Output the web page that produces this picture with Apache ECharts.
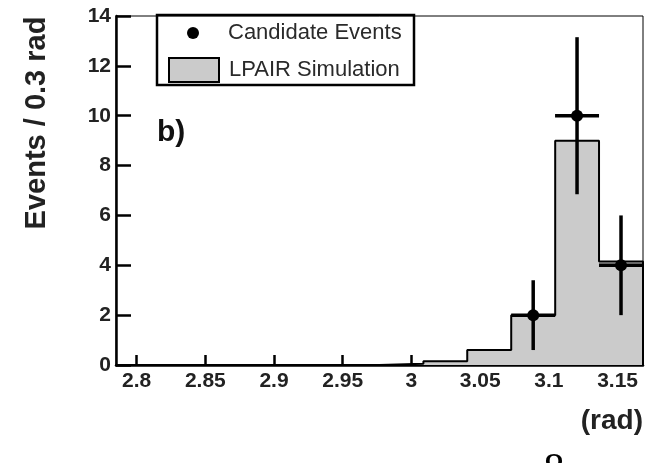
<!DOCTYPE html>
<html><head><meta charset="utf-8">
<script src="https://cdn.jsdelivr.net/npm/echarts@6/dist/echarts.min.js"></script>
<style>html,body{margin:0;padding:0;background:#fff}#c{width:655px;height:463px}</style>
</head><body><div id="c"></div>
<script>
// ---- data ----
const binEdges = [2.7850, 2.8170, 2.8489, 2.8809, 2.9128, 2.9448, 2.9767, 3.0087, 3.0406, 3.0726, 3.1046, 3.1365, 3.1685];
const simValues = [0, 0, 0, 0, 0, 0, 0.05, 0.15, 0.6, 2.0, 9.0, 4.15];
const dataX = [3.0886, 3.1205, 3.1525];
const dataY = [2, 10, 4];
const dataErr = [1.4, 3.15, 2.0];
const dataHalfWidth = [0.016, 0.016, 0.016];
const xTicks = [2.8, 2.85, 2.9, 2.95, 3, 3.05, 3.1, 3.15];
const seriesNames = ['Candidate Events', 'LPAIR Simulation'];
const yLabel = 'Events / 0.3 rad';
const xLabel = '(rad)';

const FONT = 'Liberation Sans, Arial, Helvetica, sans-serif';

const histLine = [];
for (let i = 0; i < simValues.length; i++) {
  histLine.push([binEdges[i], simValues[i]]);
  histLine.push([binEdges[i + 1], simValues[i]]);
}
histLine.push([binEdges[binEdges.length - 1], 0]);

const points = dataX.map((x, i) => [x, dataY[i], dataErr[i], dataHalfWidth[i]]);

const chart = echarts.init(document.getElementById('c'), null, {renderer: 'canvas'});
chart.setOption({
  animation: false,
  backgroundColor: '#fff',
  grid: {left: 116, right: 12, top: 16, bottom: 98, show: true, borderColor: '#000', borderWidth: 1, backgroundColor: 'transparent'},
  xAxis: {
    type: 'value', min: binEdges[0], max: binEdges[binEdges.length - 1],
    axisLine: {lineStyle: {color: '#000', width: 2.5}},
    axisTick: {inside: true, length: 10, lineStyle: {color: '#000', width: 2.5}, customValues: xTicks},
    axisLabel: {customValues: xTicks, fontFamily: FONT, fontWeight: 'bold', fontSize: 21, color: '#222', margin: 6},
    splitLine: {show: false}
  },
  yAxis: {
    type: 'value', min: 0, max: 14, interval: 2,
    axisLine: {lineStyle: {color: '#000', width: 2.5}},
    axisTick: {inside: true, length: 15, lineStyle: {color: '#000', width: 2.5}},
    axisLabel: {fontFamily: FONT, fontWeight: 'bold', fontSize: 21, color: '#222', margin: 5},
    splitLine: {show: false}
  },
  legend: [
    {data: [{name: seriesNames[0], icon: 'circle', itemStyle: {color: '#000'}}],
     left: 187, top: 21, itemWidth: 50, itemHeight: 12, padding: 0, selectedMode: false,
     textStyle: {fontFamily: FONT, fontSize: 22, color: '#2a2a2a', lineHeight: 24, padding: [0, 0, 0, 5]}},
    {data: [{name: seriesNames[1], icon: 'rect', itemStyle: {color: '#cbcbcb', borderColor: '#000', borderWidth: 2}}],
     left: 168, top: 57, itemWidth: 50, itemHeight: 24, padding: 0, selectedMode: false,
     textStyle: {fontFamily: FONT, fontSize: 22, color: '#2a2a2a', lineHeight: 24, padding: [0, 0, 0, 5]}}
  ],
  graphic: [
    {type: 'rect', shape: {x: 157, y: 15, width: 257, height: 70}, style: {fill: 'transparent', stroke: '#000', lineWidth: 2.5}, z: 10},
    {type: 'text', x: 37, y: 123, rotation: Math.PI / 2,
     style: {text: yLabel, fontFamily: FONT, fontWeight: 'bold', fontSize: 29, fill: '#222', align: 'center', verticalAlign: 'middle'}},
    {type: 'text', x: 157, y: 133,
     style: {text: 'b)', fontFamily: FONT, fontWeight: 'bold', fontSize: 30, fill: '#111', align: 'left', verticalAlign: 'middle'}},
    {type: 'text', x: 643, y: 421,
     style: {text: xLabel, fontFamily: FONT, fontWeight: 'bold', fontSize: 28, fill: '#222', align: 'right', verticalAlign: 'middle'}},
    {type: 'text', x: 554, y: 471,
     style: {text: '8', fontFamily: 'Liberation Serif, serif', fontSize: 42, fill: '#000', align: 'center', verticalAlign: 'middle'}}
  ],
  series: [
    {
      name: seriesNames[1], type: 'line', data: histLine, symbol: 'none', showSymbol: false, z: 2,
      lineStyle: {color: '#000', width: 2}, itemStyle: {color: '#cbcbcb'},
      areaStyle: {color: '#cbcbcb', opacity: 1}
    },
    {
      name: seriesNames[0], type: 'custom', data: points, z: 3,
      itemStyle: {color: '#000'},
      encode: {x: 0, y: 1},
      renderItem: function (params, api) {
        const x = api.value(0), y = api.value(1), e = api.value(2), hw = api.value(3);
        const c = api.coord([x, y]);
        const top = api.coord([x, y + e]);
        const bot = api.coord([x, y - e]);
        const l = api.coord([x - hw, y]);
        const r = api.coord([x + hw, y]);
        return {type: 'group', children: [
          {type: 'line', shape: {x1: c[0], y1: top[1], x2: c[0], y2: bot[1]}, style: {stroke: '#000', lineWidth: 3.5}},
          {type: 'line', shape: {x1: l[0], y1: c[1], x2: r[0], y2: c[1]}, style: {stroke: '#000', lineWidth: 3.5}},
          {type: 'circle', shape: {cx: c[0], cy: c[1], r: 6}, style: {fill: '#000'}}
        ]};
      }
    }
  ]
});
</script>
</body></html>
